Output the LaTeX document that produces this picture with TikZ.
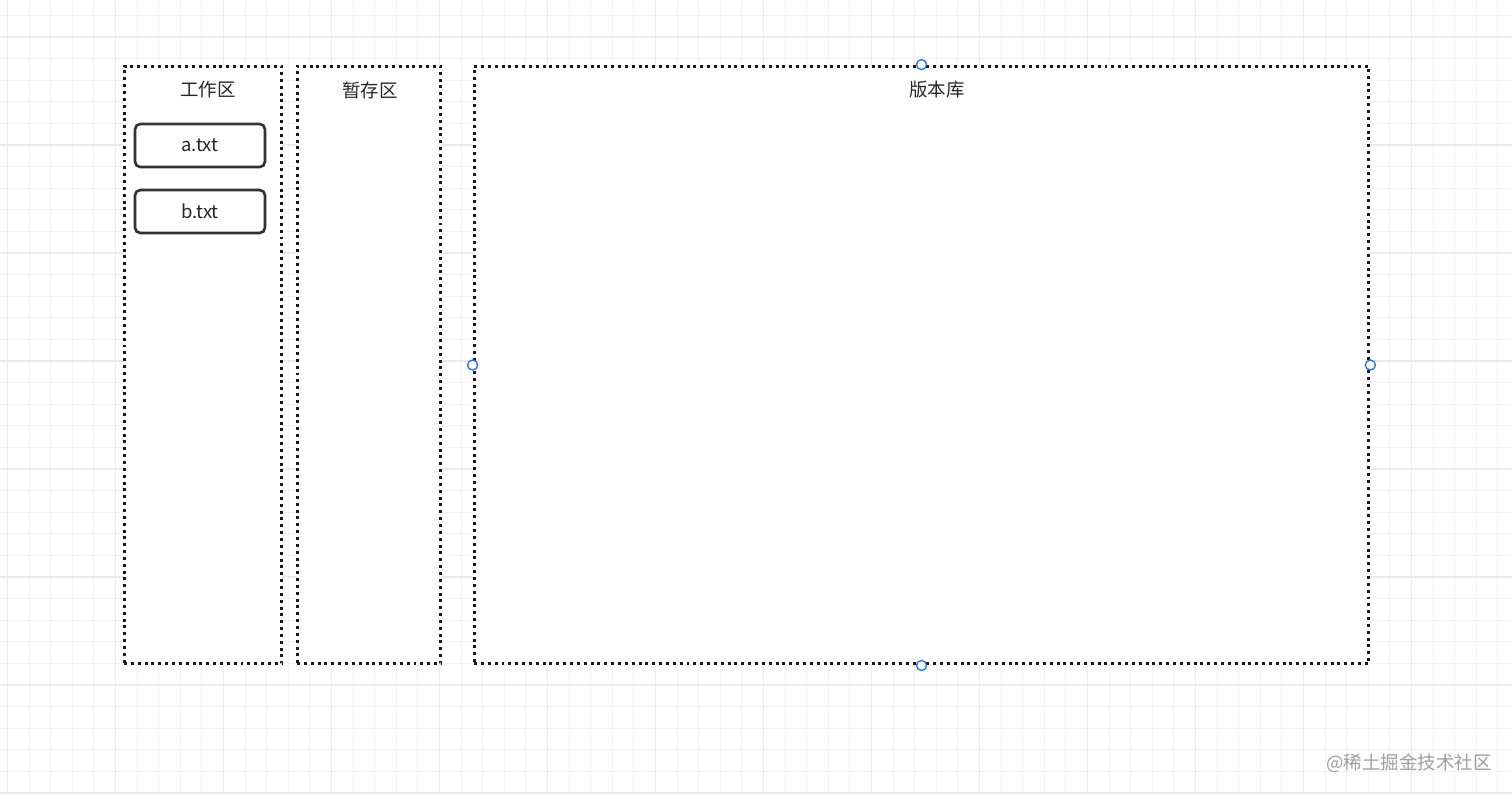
\documentclass[tikz,border=0pt]{standalone}
\usepackage{fontspec}
\setmainfont{Noto Sans CJK SC}
\usetikzlibrary{calc}
\definecolor{gridminor}{HTML}{F3F3F3}
\definecolor{gridmajor}{HTML}{EAEAEA}
\definecolor{handleblue}{HTML}{2F78D4}
\definecolor{boxline}{HTML}{333333}
\tikzset{
  zone/.style={draw=black!90, line width=1.7pt, dash pattern=on 1.7pt off 2.2pt, fill=white, inner sep=0pt},
  filebox/.style={draw=boxline, line width=1.5pt, rounded corners=3pt, fill=white,
    minimum width=2.6cm, minimum height=0.86cm, inner sep=0pt, font=\fontsize{10.5}{12}\selectfont, text=black!85},
  zonetitle/.style={font=\fontsize{10.5}{12}\selectfont, text=black!85, inner sep=0pt},
  handle/.style={draw=handleblue, fill=white, line width=0.8pt}
}
\begin{document}
\begin{tikzpicture}[x=0.02cm, y=-0.02cm]
 \fill[white] (0,0) rectangle (1512,796);
 \useasboundingbox (0,0) rectangle (1512,796);
 % background grid
 \foreach \i in {0,...,70} {
   \draw[gridminor, line width=0.5pt] ({7.4+21.6*\i},0) -- ({7.4+21.6*\i},796);
 }
 \foreach \i in {0,...,37} {
   \draw[gridminor, line width=0.5pt] (0,{15.4+21.6*\i}) -- (1512,{15.4+21.6*\i});
 }
 \foreach \i in {0,...,14} {
   \draw[gridmajor, line width=0.6pt] ({7.4+108*\i},0) -- ({7.4+108*\i},796);
 }
 \foreach \i in {0,...,7} {
   \draw[gridmajor, line width=0.6pt] (0,{37+108*\i}) -- (1512,{37+108*\i});
 }

 % the three areas
 \node[zone, minimum width=3.16cm, minimum height=11.96cm] (work) at (203,365) {};
 \node[zone, minimum width=2.88cm, minimum height=11.96cm] (stage) at (369,365) {};
 \node[zone, minimum width=17.9cm, minimum height=11.96cm] (repo) at (921.5,365) {};

 \node[zonetitle] (worktitle) at (208,90) {工作区};
 \node[zonetitle] (stagetitle) at (370,90) {暂存区};
 \node[zonetitle] (repotitle) at (937,90) {版本库};

 % files
 \node[filebox] (afile) at (200,145.5) {a.txt};
 \node[filebox] (bfile) at (200,211.5) {b.txt};

 % selection handles
 \foreach \s in {north,south,east,west}
   \draw[handle] (repo.\s) circle (5);

 \node[font=\fontsize{10.5}{12}\selectfont, text=black!38, inner sep=0pt] (mark) at (1409,763) {@稀土掘金技术社区};
\end{tikzpicture}
\end{document}
